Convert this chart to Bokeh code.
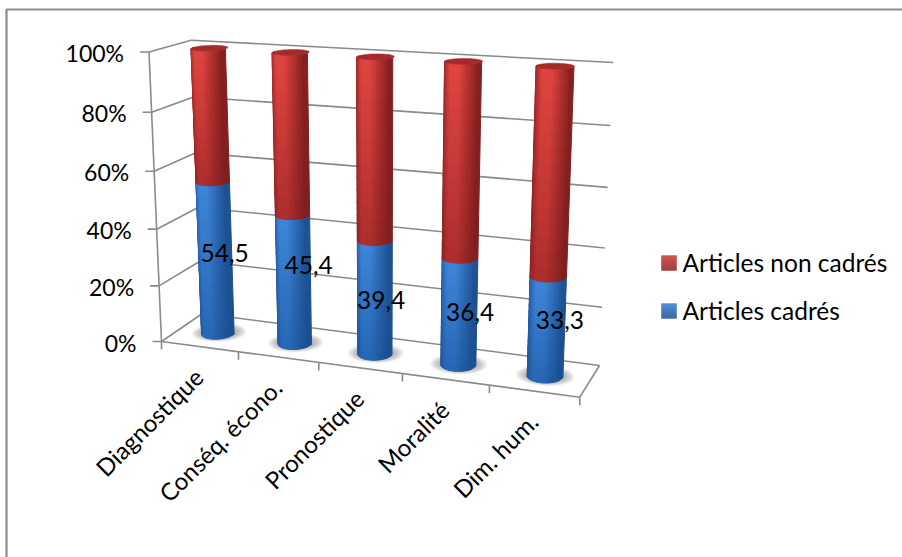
import math
from bokeh.embed import file_html
from bokeh.models import Range1d
from bokeh.plotting import figure
from bokeh.resources import INLINE
from bokeh.core.properties import value

categories = ["Diagnostique", "Conséq. écono.", "Pronostique", "Moralité", "Dim. hum."]
cadres = [54.5, 45.4, 39.4, 36.4, 33.3]
non_cadres = [45.5, 54.6, 60.6, 63.6, 66.7]
value_labels = ["54,5", "45,4", "39,4", "36,4", "33,3"]
percent_ticks = [0, 20, 40, 60, 80, 100]
legend_names = ["Articles non cadrés", "Articles cadrés"]

W, H = 902, 557
FONT = value("Lato")
GRID = "#8a8a8a"

# Corners of the 3D plot box in page pixels: (front/back, left/right, floor/ceiling)
FLB, FRB, BLB, BRB = (161, 341), (579.3, 396.7), (202, 313), (599, 365)
FLT, FRT, BLT, BRT = (148.5, 51.5), (591, 74.3), (190.7, 39.7), (612.7, 62)


def lerp(a, b, t):
    return a + (b - a) * t


def proj(u, d, pct):
    """Project category position u, depth d (0 front, 1 back) and a percentage to the page."""
    v = pct / 100
    v = v - 0.05 * v * (1 - v)  # foreshortening towards the floor
    u = u - 0.1 * u * (1 - u)   # foreshortening towards the left
    out = []
    for k in (0, 1):
        front_b = lerp(FLB[k], FRB[k], u)
        back_b = lerp(BLB[k], BRB[k], u)
        front_t = lerp(FLT[k], FRT[k], u)
        back_t = lerp(BLT[k], BRT[k], u)
        out.append(lerp(lerp(front_b, back_b, d), lerp(front_t, back_t, d), v))
    return out


def mix(c1, c2, t):
    t = max(0, min(1, t))
    return "#%02x%02x%02x" % tuple(round(lerp(a, b, t)) for a, b in zip(c1, c2))


p = figure(width=W, height=H, x_range=Range1d(0, W), y_range=Range1d(H, 0),
           output_backend="svg", toolbar_location=None, min_border=0,
           x_axis_type=None, y_axis_type=None, outline_line_color=None,
           background_fill_color="white", border_fill_color="white")
p.grid.visible = False

# Chart frame: only its top and left edges fall inside the page
p.line([6, 6, W], [H, 9, 9], line_color="#8c8c8c", line_width=2.2)


def segment(a, b, width=1.6):
    p.line([a[0], b[0]], [a[1], b[1]], line_color=GRID, line_width=width)


# Walls, floor and ticks
for t in percent_ticks:
    f, b, r = proj(0, 0, t), proj(0, 1, t), proj(1, 1, t)
    segment(f, b)
    segment(b, r)
    segment((f[0] - 9, f[1]), f)
segment(proj(0, 0, 0), proj(0, 0, 100))
segment(proj(0, 0, 0), proj(1, 0, 0))
segment(proj(1, 0, 0), proj(1, 1, 0))
for i in range(6):
    q = proj(i / 5, 0, 0)
    segment(q, (q[0], q[1] + 8))

# Axis texts
tick_pos = [proj(0, 0, t) for t in percent_ticks]
p.text([q[0] - 25 for q in tick_pos], [q[1] + 1 for q in tick_pos],
       text=[f"{t}%" for t in percent_ticks], text_font=FONT, text_font_size="23px",
       text_color="#000000", text_align="right", text_baseline="middle")
cat_pos = [proj((i + 0.5) / 5, 0, 0) for i in range(5)]
p.text([q[0] - 1 for q in cat_pos], [q[1] + 26 for q in cat_pos], text=categories,
       angle=math.radians(45), text_font=FONT, text_font_size="24px", text_color="#000000",
       text_align="right", text_baseline="middle")

BAR_RU, BAR_RD = 0.04, 0.23
RED_EDGE, RED_MID = (0x7c, 0x1c, 0x1c), (0xe0, 0x44, 0x40)
RED_LOW = (0xac, 0x2d, 0x2c)
BLUE_EDGE, BLUE_MID = (0x1a, 0x4c, 0x8c), (0x3d, 0x85, 0xd8)
BLUE_LOW = (0x26, 0x66, 0xb4)


def ring(u, pct, th):
    return proj(u + BAR_RU * math.cos(th), 0.5 - BAR_RD * math.sin(th), pct)


def body(u, lo, hi, edge, top_mid, low_mid):
    """Curved cylinder side between two percentages, shaded by small facets."""
    n_x, n_v = 18, 14
    # Facets of equal page width, walking from the left silhouette to the right one
    th = [math.acos(1 - 2 * i / n_x) for i in range(n_x + 1)]
    th = [math.pi - t for t in th]
    xs, ys, cols = [], [], []
    for j in range(n_v):
        p0 = lerp(lo, hi, j / n_v)
        p1 = lerp(lo, hi, (j + 1) / n_v)
        vt = (j + 0.5) / n_v
        mid = tuple(lerp(a, b, vt) for a, b in zip(low_mid, top_mid))
        for i in range(n_x):
            a, b = ring(u, p0, th[i]), ring(u, p0, th[i + 1])
            c, e = ring(u, p1, th[i + 1]), ring(u, p1, th[i])
            xs.append([a[0], b[0], c[0], e[0]])
            ys.append([a[1], b[1], c[1], e[1]])
            # Brightest a little left of centre, falling off to both silhouettes
            s = (i + 0.5) / n_x
            shade = 1 - abs(s - 0.42) / (0.42 if s < 0.42 else 0.58)
            cols.append(mix(edge, mid, min(1, shade * 1.35) ** 0.8))
    p.patches(xs, ys, fill_color=cols, line_color=cols, line_width=1)


def cap(u, pct, color):
    th = [2 * math.pi * i / 48 for i in range(48)]
    pts = [ring(u, pct, t) for t in th]
    p.patch([q[0] for q in pts], [q[1] for q in pts], fill_color=color, line_color=color, line_width=0.5)


def shadow(u):
    # Soft contact shadow on the floor, built from stacked translucent ellipses
    for k in range(6):
        grow = 1.6 - 0.11 * k
        th = [2 * math.pi * i / 40 for i in range(40)]
        pts = [proj(u + BAR_RU * grow * math.cos(t), 0.5 - BAR_RD * (0.85 + 0.1 * (5 - k)) * math.sin(t), 0) for t in th]
        p.patch([q[0] for q in pts], [q[1] for q in pts], fill_color="#707070", fill_alpha=0.11, line_color=None)


for i in range(5):
    u = (i + 0.5) / 5
    shadow(u)
    body(u, 0, cadres[i], BLUE_EDGE, BLUE_MID, BLUE_LOW)
    body(u, cadres[i], cadres[i] + non_cadres[i], RED_EDGE, RED_MID, RED_LOW)
    cap(u, cadres[i] + non_cadres[i], "#a52b2b")

# Value labels sit on the blue part, nudged the way the chart places them
label_nudge = [(8, -5), (14, -14), (5.5, 3), (10.5, 1), (13, -6)]
lab_pos = [proj((i + 0.5) / 5, 0.5, cadres[i] / 2) for i in range(5)]
p.text([q[0] + n[0] for q, n in zip(lab_pos, label_nudge)],
       [q[1] + n[1] for q, n in zip(lab_pos, label_nudge)],
       text=value_labels, text_font=FONT, text_font_size="24.5px", text_color="#000000",
       text_align="center", text_baseline="middle")

# Legend
leg_y = [255, 303]
leg_cols = [((0xd0, 0x3c, 0x38), (0x93, 0x25, 0x24)), ((0x3c, 0x80, 0xd0), (0x22, 0x55, 0x98))]
for y0, (c0, c1) in zip(leg_y, leg_cols):
    for k in range(15):
        col = mix(c0, c1, k / 14)
        p.quad(left=[661], right=[676], top=[y0 + k], bottom=[y0 + k + 1], fill_color=col, line_color=col, line_width=0.3)
p.text([682, 682], [y + 7 for y in leg_y], text=legend_names, text_font=FONT, text_font_size="24.5px",
       text_color="#000000", text_align="left", text_baseline="middle")

open("out.html", "w").write(file_html(p, INLINE))
